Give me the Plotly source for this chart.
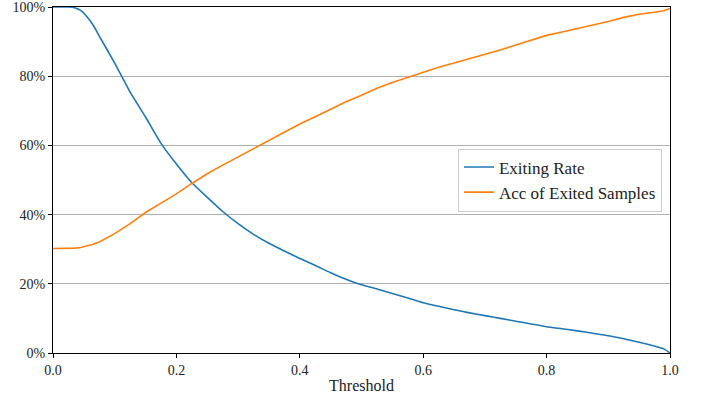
import plotly.graph_objects as go

threshold = [0.0, 0.025, 0.035, 0.045, 0.055, 0.065, 0.075, 0.1, 0.125, 0.15, 0.175, 0.2, 0.225, 0.25,
             0.275, 0.3, 0.325, 0.35, 0.375, 0.4, 0.425, 0.45, 0.475, 0.5, 0.525, 0.55, 0.575, 0.6,
             0.625, 0.65, 0.675, 0.7, 0.725, 0.75, 0.775, 0.8, 0.825, 0.85, 0.875, 0.9, 0.925, 0.95,
             0.975, 0.99, 1.0]

exiting_rate = [100.0, 100.0, 99.8, 99.0, 97.2, 94.8, 91.6, 83.8, 75.4, 68.2, 60.6, 54.6, 49.2, 45.0,
                40.9, 37.4, 34.3, 31.7, 29.5, 27.3, 25.3, 23.2, 21.3, 19.7, 18.5, 17.2, 15.9, 14.5,
                13.5, 12.5, 11.6, 10.8, 10.0, 9.2, 8.4, 7.6, 7.0, 6.4, 5.7, 5.0, 4.1, 3.1,
                2.0, 1.2, 0.0]

acc_exited = [30.2, 30.2, 30.3, 30.5, 30.9, 31.4, 32.1, 34.5, 37.4, 40.6, 43.3, 46.0, 49.0, 51.8,
              54.3, 56.7, 59.2, 61.6, 64.0, 66.2, 68.3, 70.5, 72.6, 74.5, 76.5, 78.2, 79.7, 81.2,
              82.6, 83.8, 85.0, 86.2, 87.6, 89.0, 90.5, 91.8, 92.8, 93.8, 94.7, 95.8, 97.0, 97.9,
              98.5, 98.9, 99.6]

x_ticks = [0.0, 0.2, 0.4, 0.6, 0.8, 1.0]
x_tick_labels = ["0.0", "0.2", "0.4", "0.6", "0.8", "1.0"]
y_ticks = [0, 20, 40, 60, 80, 100]
y_tick_labels = ["0%", "20%", "40%", "60%", "80%", "100%"]

FONT = "Liberation Serif, Times New Roman, serif"

fig = go.Figure()
fig.add_trace(go.Scatter(x=threshold, y=exiting_rate, mode="lines", name="Exiting Rate",
                         line=dict(color="#1f77b4", width=1.6, shape="spline", smoothing=0.5)))
fig.add_trace(go.Scatter(x=threshold, y=acc_exited, mode="lines", name="Acc of Exited Samples",
                         line=dict(color="#ff7f0e", width=1.6)))

fig.update_layout(
    width=707, height=403,
    margin=dict(l=53, r=37, t=7, b=50, autoexpand=False),
    paper_bgcolor="white", plot_bgcolor="white",
    font=dict(family=FONT, size=14, color="#222"),
    showlegend=True,
    legend=dict(x=0.987, y=0.5, xanchor="right", yanchor="middle",
                bgcolor="rgba(255,255,255,0.85)", bordercolor="#cccccc", borderwidth=1,
                font=dict(family=FONT, size=17, color="#222"), tracegroupgap=0),
    xaxis=dict(range=[0, 1], tickvals=x_ticks, ticktext=x_tick_labels,
               showgrid=False, zeroline=False, automargin=False,
               showline=True, linecolor="black", linewidth=1.2, mirror=True,
               ticks="outside", ticklen=4, tickcolor="black",
               tickfont=dict(family=FONT, size=14), ticklabeloverflow="allow",
               title=dict(text="Threshold", font=dict(family=FONT, size=16), standoff=2)),
    yaxis=dict(range=[0, 100.0001], tickvals=y_ticks, ticktext=y_tick_labels,
               showgrid=True, gridcolor="#b0b0b0", gridwidth=1, zeroline=False, automargin=False,
               showline=True, linecolor="black", linewidth=1.2, mirror=True,
               ticks="outside", ticklen=4, tickcolor="black",
               tickfont=dict(family=FONT, size=14), ticklabeloverflow="allow"),
)

fig.write_html("out.html", config={"displayModeBar": False},
               post_script="document.body.style.margin='0';")
